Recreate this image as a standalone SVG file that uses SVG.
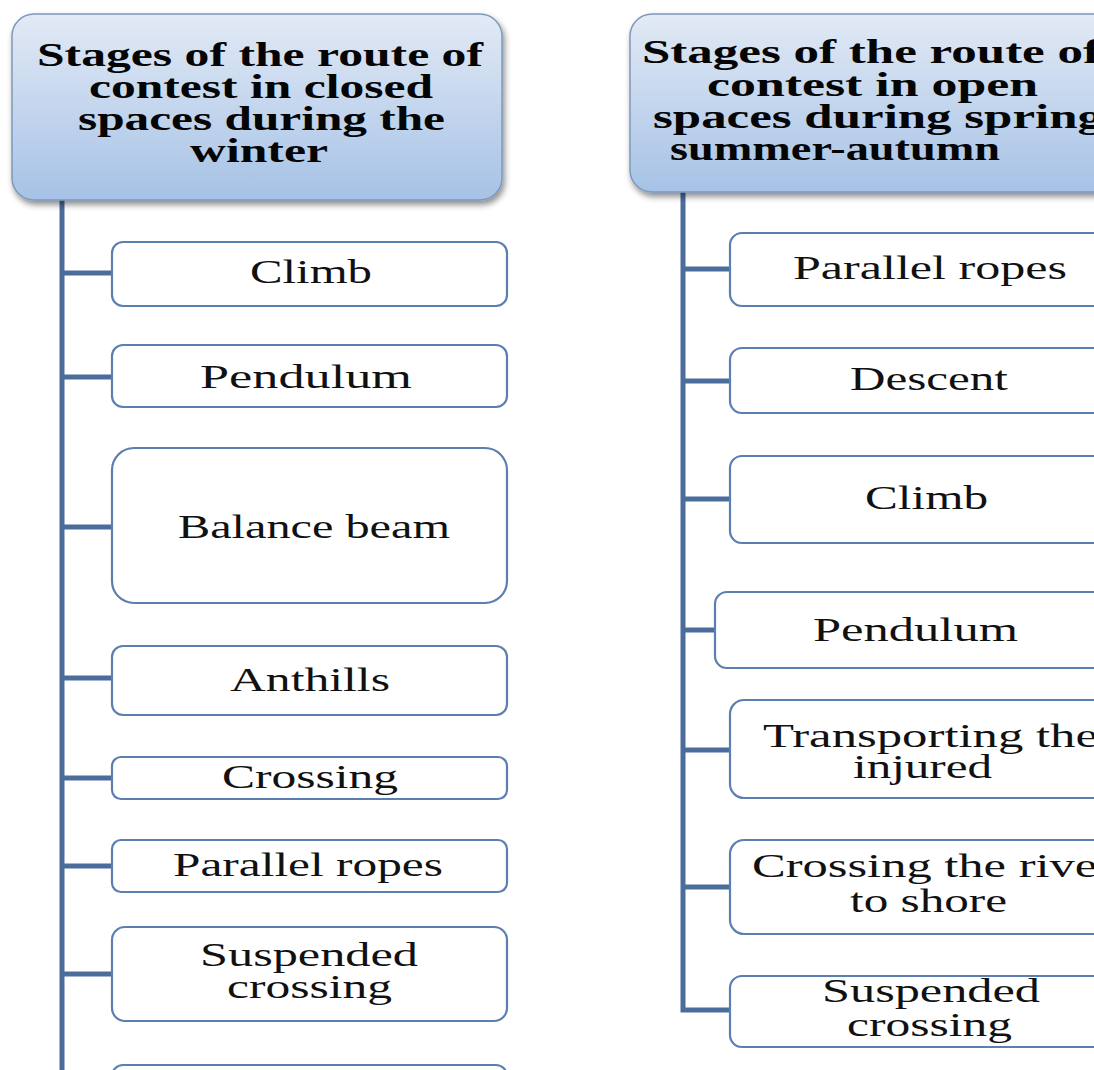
<svg xmlns="http://www.w3.org/2000/svg" width="1094" height="1070" viewBox="0 0 1094 1070">
<defs>
<linearGradient id="hdr" x1="0" y1="0" x2="0" y2="1">
<stop offset="0" stop-color="#e2eaf5"/>
<stop offset="1" stop-color="#a6c2e6"/>
</linearGradient>
<filter id="sh" x="-10%" y="-10%" width="120%" height="130%">
<feDropShadow dx="2" dy="4" stdDeviation="3" flood-color="#000" flood-opacity="0.45"/>
</filter>
<style>
.hdr{fill:url(#hdr);stroke:#7f98ba;stroke-width:1.5;filter:url(#sh)}
.box{fill:#ffffff;stroke:#5b7fb0;stroke-width:2.2}
.ht{font-family:"Liberation Serif","Times New Roman",serif;font-weight:bold;font-size:33px;fill:#050505}
.bt{font-family:"Liberation Serif","Times New Roman",serif;font-size:33px;fill:#111111}
.con{stroke:#4a6d9c;stroke-width:5;fill:none}
</style>
</defs>
<rect width="1094" height="1070" fill="#ffffff"/>

<g id="connectors">
<path class="con" d="M62,198 V1070"/>
<path class="con" d="M62,273 H112 M62,377 H112 M62,527 H112 M62,678 H112 M62,778 H112 M62,866 H112 M62,974 H112"/>
<path class="con" d="M683,190 V1010 H730"/>
<path class="con" d="M683,269 H730 M683,381 H730 M683,499 H730 M683,630 H715 M683,750 H730 M683,887 H730"/>
</g>

<g id="header-left">
<rect class="hdr" x="12" y="14" width="490" height="186" rx="22"/>
<text class="ht" x="37" y="66" textLength="446" lengthAdjust="spacingAndGlyphs">Stages of the route of</text>
<text class="ht" x="89" y="98" textLength="344" lengthAdjust="spacingAndGlyphs">contest in closed</text>
<text class="ht" x="78" y="130" textLength="367" lengthAdjust="spacingAndGlyphs">spaces during the</text>
<text class="ht" x="190" y="162" textLength="138" lengthAdjust="spacingAndGlyphs">winter</text>
</g>

<g id="header-right">
<rect class="hdr" x="630" y="14" width="500" height="178" rx="22"/>
<text class="ht" x="642" y="63" textLength="458" lengthAdjust="spacingAndGlyphs">Stages of the route of</text>
<text class="ht" x="707" y="96" textLength="331" lengthAdjust="spacingAndGlyphs">contest in open</text>
<text class="ht" x="653" y="128" textLength="450" lengthAdjust="spacingAndGlyphs">spaces during spring</text>
<text class="ht" x="670" y="160" textLength="330" lengthAdjust="spacingAndGlyphs">summer-autumn</text>
</g>

<g id="l-climb">
<rect class="box" x="112" y="242" width="395" height="64" rx="11"/>
<text class="bt" x="250" y="283" textLength="122" lengthAdjust="spacingAndGlyphs">Climb</text>
</g>
<g id="l-pendulum">
<rect class="box" x="112" y="345" width="395" height="62" rx="11"/>
<text class="bt" x="200" y="388" textLength="212" lengthAdjust="spacingAndGlyphs">Pendulum</text>
</g>
<g id="l-balance">
<rect class="box" x="112" y="448" width="395" height="155" rx="22"/>
<text class="bt" x="178" y="538" textLength="272" lengthAdjust="spacingAndGlyphs">Balance beam</text>
</g>
<g id="l-anthills">
<rect class="box" x="112" y="646" width="395" height="69" rx="11"/>
<text class="bt" x="230" y="691" textLength="160" lengthAdjust="spacingAndGlyphs">Anthills</text>
</g>
<g id="l-crossing">
<rect class="box" x="112" y="757" width="395" height="42" rx="9"/>
<text class="bt" x="222" y="788" textLength="176" lengthAdjust="spacingAndGlyphs">Crossing</text>
</g>
<g id="l-parallel">
<rect class="box" x="112" y="840" width="395" height="52" rx="9"/>
<text class="bt" x="173" y="876" textLength="270" lengthAdjust="spacingAndGlyphs">Parallel ropes</text>
</g>
<g id="l-suspended">
<rect class="box" x="112" y="927" width="395" height="94" rx="13"/>
<text class="bt" x="200" y="966" textLength="218" lengthAdjust="spacingAndGlyphs">Suspended</text>
<text class="bt" x="227" y="998" textLength="165" lengthAdjust="spacingAndGlyphs">crossing</text>
</g>
<g id="l-next">
<rect class="box" x="112" y="1065" width="395" height="60" rx="11"/>
</g>

<g id="r-parallel">
<rect class="box" x="730" y="233" width="396" height="73" rx="12"/>
<text class="bt" x="793" y="279" textLength="274" lengthAdjust="spacingAndGlyphs">Parallel ropes</text>
</g>
<g id="r-descent">
<rect class="box" x="730" y="348" width="396" height="65" rx="12"/>
<text class="bt" x="850" y="390" textLength="158" lengthAdjust="spacingAndGlyphs">Descent</text>
</g>
<g id="r-climb">
<rect class="box" x="730" y="456" width="396" height="87" rx="12"/>
<text class="bt" x="865" y="509" textLength="123" lengthAdjust="spacingAndGlyphs">Climb</text>
</g>
<g id="r-pendulum">
<rect class="box" x="715" y="592" width="411" height="76" rx="12"/>
<text class="bt" x="813" y="641" textLength="205" lengthAdjust="spacingAndGlyphs">Pendulum</text>
</g>
<g id="r-transport">
<rect class="box" x="730" y="700" width="396" height="98" rx="14"/>
<text class="bt" x="763" y="747" textLength="335" lengthAdjust="spacingAndGlyphs">Transporting the</text>
<text class="bt" x="853" y="778" textLength="139" lengthAdjust="spacingAndGlyphs">injured</text>
</g>
<g id="r-river">
<rect class="box" x="730" y="840" width="396" height="94" rx="14"/>
<text class="bt" x="752" y="877" textLength="362" lengthAdjust="spacingAndGlyphs">Crossing the river</text>
<text class="bt" x="850" y="912" textLength="157" lengthAdjust="spacingAndGlyphs">to shore</text>
</g>
<g id="r-suspended">
<rect class="box" x="730" y="976" width="396" height="71" rx="12"/>
<text class="bt" x="822" y="1002" textLength="218" lengthAdjust="spacingAndGlyphs">Suspended</text>
<text class="bt" x="847" y="1036" textLength="165" lengthAdjust="spacingAndGlyphs">crossing</text>
</g>
</svg>
